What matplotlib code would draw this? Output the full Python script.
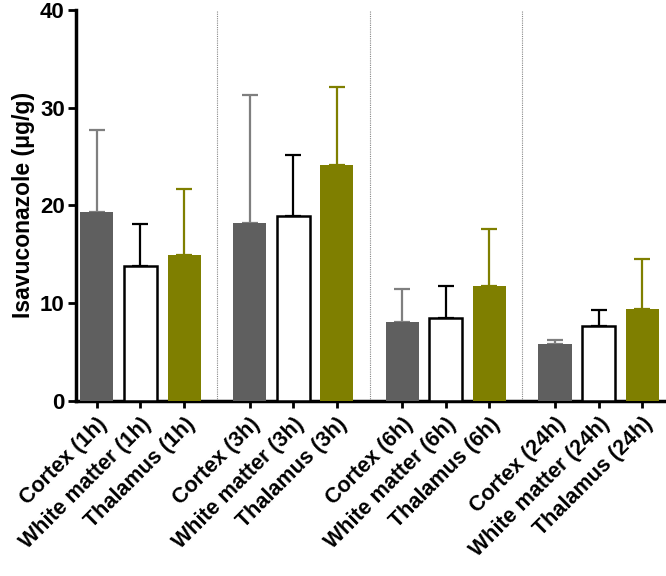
import matplotlib
matplotlib.use('Agg')
import matplotlib.pyplot as plt

plt.rcParams['font.family'] = ['Liberation Sans', 'DejaVu Sans']
plt.rcParams['font.weight'] = 'bold'

# --- data -----------------------------------------------------------------
labels = [
    "Cortex (1h)", "White matter (1h)", "Thalamus (1h)",
    "Cortex (3h)", "White matter (3h)", "Thalamus (3h)",
    "Cortex (6h)", "White matter (6h)", "Thalamus (6h)",
    "Cortex (24h)", "White matter (24h)", "Thalamus (24h)",
]
means = [19.3, 13.8, 14.9, 18.2, 18.9, 24.1, 8.1, 8.5, 11.8, 5.8, 7.7, 9.4]
upper = [27.7, 18.1, 21.7, 31.3, 25.2, 32.1, 11.4, 11.8, 17.6, 6.2, 9.3, 14.5]
positions = [0, 1, 2, 3.5, 4.5, 5.5, 7, 8, 9, 10.5, 11.5, 12.5]
separators = [2.75, 6.25, 9.75]
yticks = [0, 10, 20, 30, 40]

# tissue styles: (face, edge, errcolor)
styles = {
    "Cortex": ("#5f5f5f", "#5f5f5f", "#7f7f7f"),
    "White matter": ("white", "black", "black"),
    "Thalamus": ("#7f7f00", "#7f7f00", "#7f7f00"),
}

fig = plt.figure(figsize=(6.66, 5.76), dpi=100)
ax = fig.add_axes([0.114, 0.304, 0.883, 0.679])

for x, lab, m, u in zip(positions, labels, means, upper):
    tissue = lab.split(" (")[0]
    face, edge, ecol = styles[tissue]
    ax.bar(x, m, width=0.76, color=face, edgecolor=edge,
           linewidth=1.8 if face == "white" else 0, zorder=3)
    ax.errorbar(x, m, yerr=[[0], [u - m]], fmt='none', ecolor=ecol,
                elinewidth=1.6, capsize=6, capthick=1.6, zorder=2)

for s in separators:
    ax.axvline(s, color='#888888', linestyle=(0, (1, 1)), linewidth=0.8, zorder=1)

ax.set_xlim(-0.48, 13.0)
ax.set_ylim(0, 40)
ax.set_yticks(yticks)
ax.set_xticks(positions)
ax.set_xticklabels(labels, rotation=45, ha='right', rotation_mode='anchor',
                   fontsize=15.5, fontweight='bold')
ax.tick_params(axis='y', labelsize=16, width=2, length=6, direction='out', pad=2)
ax.tick_params(axis='x', width=2, length=5, direction='out', pad=4)
for t in ax.get_yticklabels():
    t.set_fontweight('bold')
ax.set_ylabel("Isavuconazole (μg/g)", fontsize=16.5, fontweight='bold', labelpad=4)

for side in ('top', 'right'):
    ax.spines[side].set_visible(False)
for side in ('left', 'bottom'):
    ax.spines[side].set_linewidth(2.5)

fig.savefig("out.png", dpi=100)
plt.close(fig)
